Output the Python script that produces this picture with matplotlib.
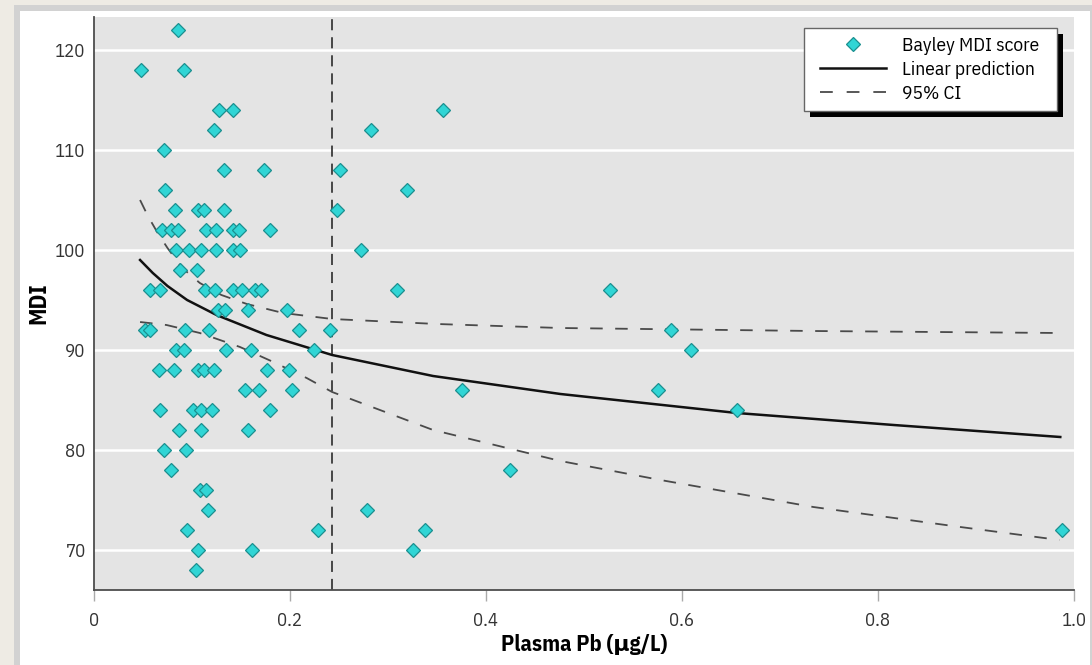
import matplotlib
matplotlib.use("Agg")
import matplotlib.pyplot as plt
from matplotlib.patches import Rectangle
from matplotlib.lines import Line2D
from matplotlib import font_manager as fm

# ---------------- data ----------------
plasma_pb = [
    0.086,
    0.048, 0.092,
    0.128, 0.142, 0.356,
    0.122, 0.283,
    0.071,
    0.133, 0.173, 0.251,
    0.072, 0.319,
    0.083, 0.106, 0.112, 0.133, 0.248,
    0.069, 0.079, 0.086, 0.114, 0.124, 0.142, 0.148, 0.180,
    0.084, 0.097, 0.109, 0.124, 0.142, 0.149, 0.272,
    0.088, 0.105,
    0.057, 0.067, 0.113, 0.123, 0.142, 0.151, 0.164, 0.170, 0.309, 0.527,
    0.127, 0.134, 0.157, 0.197,
    0.052, 0.057, 0.093, 0.117, 0.209, 0.241, 0.589,
    0.084, 0.092, 0.135, 0.160, 0.224, 0.609,
    0.066, 0.082, 0.106, 0.112, 0.122, 0.177, 0.199,
    0.154, 0.168, 0.202, 0.376, 0.575,
    0.067, 0.101, 0.109, 0.120, 0.180, 0.656,
    0.087, 0.109, 0.157,
    0.071, 0.094,
    0.079, 0.424,
    0.108, 0.114,
    0.116, 0.279,
    0.095, 0.229, 0.338, 0.988,
    0.106, 0.161, 0.326,
    0.104,
]
mdi = [
    122,
    118, 118,
    114, 114, 114,
    112, 112,
    110,
    108, 108, 108,
    106, 106,
    104, 104, 104, 104, 104,
    102, 102, 102, 102, 102, 102, 102, 102,
    100, 100, 100, 100, 100, 100, 100,
    98, 98,
    96, 96, 96, 96, 96, 96, 96, 96, 96, 96,
    94, 94, 94, 94,
    92, 92, 92, 92, 92, 92, 92,
    90, 90, 90, 90, 90, 90,
    88, 88, 88, 88, 88, 88, 88,
    86, 86, 86, 86, 86,
    84, 84, 84, 84, 84, 84,
    82, 82, 82,
    80, 80,
    78, 78,
    76, 76,
    74, 74,
    72, 72, 72, 72,
    70, 70, 70,
    68,
]

fit_x = [0.047, 0.060, 0.075, 0.095, 0.125, 0.176, 0.243, 0.346, 0.476, 0.656, 0.816, 0.986]
fit_y = [99.0, 97.7, 96.4, 95.0, 93.5, 91.5, 89.5, 87.4, 85.6, 83.7, 82.5, 81.3]

ci_up_x = [0.047, 0.055, 0.065, 0.075, 0.090, 0.108, 0.130, 0.156, 0.193, 0.243, 0.350, 0.476, 0.734, 0.985]
ci_up_y = [105.0, 103.4, 101.7, 100.2, 98.2, 96.7, 95.5, 94.6, 93.7, 93.1, 92.6, 92.2, 91.9, 91.7]

ci_lo_x = [0.047, 0.074, 0.108, 0.149, 0.183, 0.217, 0.243, 0.346, 0.476, 0.578, 0.734, 0.884, 0.985]
ci_lo_y = [92.8, 92.5, 91.7, 90.3, 88.8, 87.2, 85.8, 82.0, 78.9, 77.0, 74.3, 72.3, 71.0]

threshold_pb = 0.243

x_ticks = [0, 0.2, 0.4, 0.6, 0.8, 1.0]
x_tick_labels = ["0", "0.2", "0.4", "0.6", "0.8", "1.0"]
y_ticks = [70, 80, 90, 100, 110, 120]
y_tick_labels = ["70", "80", "90", "100", "110", "120"]

legend_labels = ["Bayley MDI score", "Linear prediction", "95% CI"]

# ---------------- fonts ----------------
weights = {}
for f in fm.fontManager.ttflist:
    w = f.weight if isinstance(f.weight, int) else (700 if str(f.weight) == "bold" else 400)
    if f.style == "normal":
        weights.setdefault(f.name, set()).add(w)
prefs = ["IBM Plex Sans Condensed", "Archivo Narrow", "PT Sans Narrow", "Roboto Condensed",
         "Fira Sans Condensed", "Barlow Semi Condensed", "Liberation Sans Narrow"]
chosen = None
for p in prefs:
    ws = weights.get(p, set())
    if 400 in ws and 700 in ws:
        chosen = p
        break
if chosen:
    plt.rcParams["font.family"] = [chosen, "DejaVu Sans"]
else:
    plt.rcParams["font.family"] = ["DejaVu Sans"]
plt.rcParams["lines.scale_dashes"] = False

W, H = 1092, 665
fig = plt.figure(figsize=(W / 100, H / 100), dpi=100)
fig.patch.set_facecolor("#EEEBE4")
fig.patches.append(Rectangle((14 / W, 0), (W - 14) / W, (H - 5) / H, transform=fig.transFigure,
                             facecolor="#D2D2D2", edgecolor="none", zorder=-10))
fig.patches.append(Rectangle((20 / W, 0), (1090 - 20) / W, (H - 11) / H, transform=fig.transFigure,
                             facecolor="white", edgecolor="none", zorder=-9))

ax = fig.add_axes([94 / W, 75 / H, 980 / W, 573 / H])
ax.set_facecolor("#E4E4E4")
ax.set_xlim(0, 1.0)
ax.set_ylim(66, 123.3)

ax.set_axisbelow(True)
ax.yaxis.grid(True, color="white", lw=1.8)
ax.xaxis.grid(False)

for s in ["top", "right"]:
    ax.spines[s].set_visible(False)
for s in ["left", "bottom"]:
    ax.spines[s].set_color("#4D4D4D")
    ax.spines[s].set_linewidth(1.3)

ax.set_xticks(x_ticks)
ax.set_xticklabels(x_tick_labels)
ax.set_yticks(y_ticks)
ax.set_yticklabels(y_tick_labels)
ax.tick_params(axis="x", length=8, width=1, color="#AAAAAA", pad=8, labelsize=13.5, labelcolor="#333333")
ax.tick_params(axis="y", length=0, pad=6, labelsize=13.5, labelcolor="#333333")

# reference line
ax.axvline(threshold_pb, color="#3A3A3A", lw=1.3, dashes=(8, 5), zorder=2)

# CI and fit
ax.plot(ci_up_x, ci_up_y, color="#4A4A4A", lw=1.3, dashes=(9, 9), zorder=2)
ax.plot(ci_lo_x, ci_lo_y, color="#4A4A4A", lw=1.3, dashes=(9, 9), zorder=2)
ax.plot(fit_x, fit_y, color="#111111", lw=1.8, zorder=2)

# points
ax.plot(plasma_pb, mdi, ls="none", marker="D", ms=6.8, mfc="#30D5D5", mec="#1B8F8F", mew=0.9, zorder=3)

ax.set_xlabel("Plasma Pb (μg/L)", fontsize=16, fontweight="bold", labelpad=3)
ax.set_ylabel("MDI", fontsize=17, fontweight="bold")
ax.yaxis.set_label_coords(-0.045, 0.5)

# legend box (frame + shadow), pixel box from the reference: x 804-1057, y 28-111
bx0, bx1, by0, by1 = 804, 1057, 28, 111
ax.add_patch(Rectangle(((bx0 + 6) / W, 1 - (by1 + 6) / H), (bx1 - bx0) / W, (by1 - by0) / H,
                       transform=fig.transFigure, facecolor="black", edgecolor="none",
                       clip_on=False, zorder=5.5))
ax.add_patch(Rectangle((bx0 / W, 1 - by1 / H), (bx1 - bx0) / W, (by1 - by0) / H,
                       transform=fig.transFigure, facecolor="white", edgecolor="#666666", lw=1.0,
                       clip_on=False, zorder=5.6))

handles = [
    Line2D([], [], ls="none", marker="D", ms=6.8, mfc="#30D5D5", mec="#1B8F8F", mew=0.9),
    Line2D([], [], color="#111111", lw=1.8),
    Line2D([], [], color="#4A4A4A", lw=1.3, dashes=(9.2, 10)),
]
leg = ax.legend(handles, legend_labels, loc="center",
                bbox_to_anchor=((bx0 + bx1) / 2 / W - 1 / W, 1 - ((by0 + by1) / 2 + 0.5) / H),
                bbox_transform=fig.transFigure, borderaxespad=0, fontsize=14, frameon=False,
                handlelength=3.4, handletextpad=0.8, borderpad=0, labelspacing=0.3, numpoints=1)
leg.set_zorder(6)

fig.savefig("out.png", dpi=100)
